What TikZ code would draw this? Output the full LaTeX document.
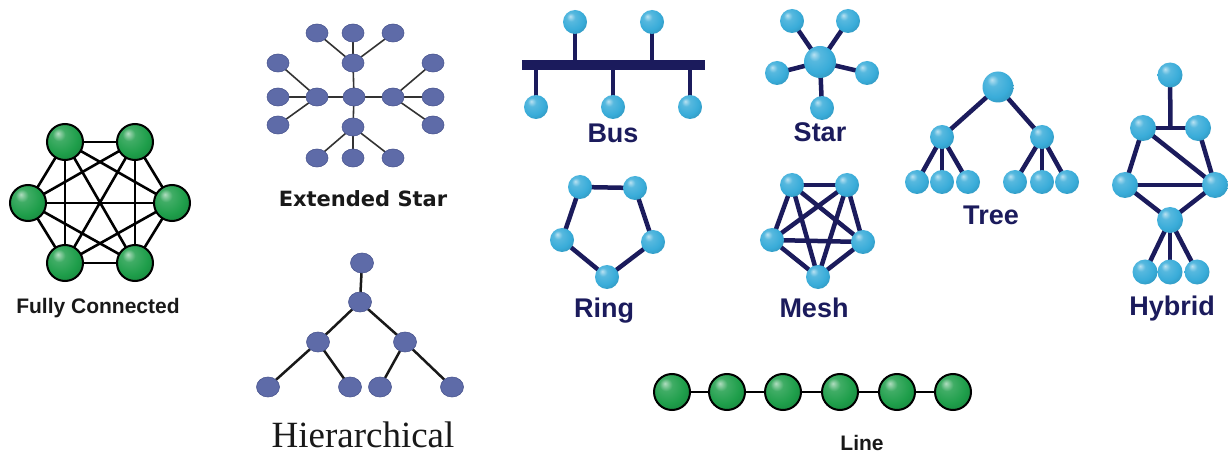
\documentclass[tikz,border=0pt]{standalone}
\usepackage{fontspec}
\setmainfont{Liberation Sans}
\newfontfamily\serifx{Liberation Serif}
\newfontfamily\dejab{DejaVu Sans}
\usetikzlibrary{backgrounds,calc,shapes.geometric}
\definecolor{navy}{HTML}{1B1B5C}
\definecolor{bcol}{HTML}{39ACD9}
\definecolor{gcol}{HTML}{1E9E4A}
\definecolor{slate}{HTML}{5E6BA8}
\definecolor{slateb}{HTML}{4A5690}
\pgfdeclareradialshading{bball}{\pgfqpoint{-10bp}{12bp}}{color(0bp)=(bcol!35!white); color(9bp)=(bcol!85!white); color(24bp)=(bcol); color(42bp)=(bcol!78!black); color(62bp)=(bcol!55!black)}
\pgfdeclareradialshading{gball}{\pgfqpoint{-10bp}{12bp}}{color(0bp)=(gcol!35!white); color(9bp)=(gcol!85!white); color(24bp)=(gcol); color(42bp)=(gcol!75!black); color(62bp)=(gcol!50!black)}
\tikzset{
  gnode/.style={circle, inner sep=0pt, minimum size=36pt, shading=gball, draw=black, line width=2pt},
  bnode/.style={circle, inner sep=0pt, minimum size=24pt, shading=bball},
  bbig/.style={bnode, minimum size=32pt},
  snode/.style={ellipse, inner sep=0pt, minimum width=22pt, minimum height=18pt, fill=slate, draw=slateb, line width=0.6pt},
  hnode/.style={snode, minimum width=23pt, minimum height=20pt},
  fcedge/.style={black, line width=2.6pt},
  nedge/.style={navy, line width=4.5pt},
  sedge/.style={black!80, line width=1.6pt},
  hedge/.style={black!90, line width=2.5pt},
  navylab/.style={anchor=base, text=navy, font=\fontsize{27}{30}\selectfont\bfseries, inner sep=0pt},
  blacklab/.style={anchor=base, text=black!90, font=\fontsize{21}{24}\selectfont\bfseries, inner sep=0pt},
}
\begin{document}
\begin{tikzpicture}[x=1pt,y=-1pt]
\useasboundingbox (0,0) rectangle (1228,454);
\begin{pgfonlayer}{background}
\fill[white] (0,0) rectangle (1228,454);
\end{pgfonlayer}

% ---------- Fully connected ----------
\node[gnode] (f1) at (65,142) {};
\node[gnode] (f2) at (135,142) {};
\node[gnode] (f3) at (28,203) {};
\node[gnode] (f4) at (172,203) {};
\node[gnode] (f5) at (65,263) {};
\node[gnode] (f6) at (135,263) {};
\begin{pgfonlayer}{background}
\foreach \a/\b in {f1/f2,f1/f3,f1/f4,f1/f5,f1/f6,f2/f3,f2/f4,f2/f5,f2/f6,f3/f4,f3/f5,f3/f6,f4/f5,f4/f6,f5/f6}
  \draw[fcedge] (\a.center) -- (\b.center);
\end{pgfonlayer}
\node[blacklab] (fclab) at (98,313) {Fully Connected};

% ---------- Extended star ----------
\node[snode] (ec) at (354,97) {};
\node[snode] (et) at (353,63) {};
\node[snode] (el) at (317,97) {};
\node[snode] (er) at (393,97) {};
\node[snode] (eb) at (353,127) {};
\node[snode] (et1) at (317,33) {};
\node[snode] (et2) at (353,33) {};
\node[snode] (et3) at (393,33) {};
\node[snode] (el1) at (278,63) {};
\node[snode] (el2) at (278,97) {};
\node[snode] (el3) at (278,125) {};
\node[snode] (er1) at (433,63) {};
\node[snode] (er2) at (433,97) {};
\node[snode] (er3) at (433,125) {};
\node[snode] (eb1) at (317,158) {};
\node[snode] (eb2) at (353,158) {};
\node[snode] (eb3) at (393,158) {};
\begin{pgfonlayer}{background}
\foreach \a/\b in {ec/et,ec/el,ec/er,ec/eb,et/et1,et/et2,et/et3,el/el1,el/el2,el/el3,er/er1,er/er2,er/er3,eb/eb1,eb/eb2,eb/eb3}
  \draw[sedge] (\a.center) -- (\b.center);
\end{pgfonlayer}
\node[anchor=base, text=black!90, font=\dejab\fontsize{21}{24}\selectfont\bfseries, inner sep=0pt] (eslab) at (363,207) {Extended Star};

% ---------- Hierarchical ----------
\node[hnode] (hr) at (362,263) {};
\node[hnode] (h1) at (360,302) {};
\node[hnode] (h2) at (318,342) {};
\node[hnode] (h3) at (405,342) {};
\node[hnode] (hl1) at (268,387) {};
\node[hnode] (hl2) at (350,387) {};
\node[hnode] (hl3) at (380,387) {};
\node[hnode] (hl4) at (452,387) {};
\begin{pgfonlayer}{background}
\foreach \a/\b in {hr/h1,h1/h2,h1/h3,h2/hl1,h2/hl2,h3/hl3,h3/hl4}
  \draw[hedge] (\a.center) -- (\b.center);
\end{pgfonlayer}
\node[anchor=base, text=black!90, font=\serifx\fontsize{37}{40}\selectfont, inner sep=0pt] (hilab) at (363,447) {Hierarchical};

% ---------- Bus ----------
\node[fill=navy, inner sep=0pt, minimum width=183pt, minimum height=10pt] (bar) at (613.5,65) {};
\node[bnode] (bt1) at (575,22) {};
\node[bnode] (bt2) at (652,22) {};
\node[bnode] (bb1) at (536,107) {};
\node[bnode] (bb2) at (613,107) {};
\node[bnode] (bb3) at (690,107) {};
\begin{pgfonlayer}{background}
\foreach \n in {bt1,bt2,bb1,bb2,bb3}
  \draw[nedge] (\n.center) -- (\n.center |- bar.center);
\end{pgfonlayer}
\node[navylab] (buslab) at (613,143) {Bus};

% ---------- Star ----------
\node[bbig] (sc) at (820,62) {};
\node[bnode] (s1) at (792,21) {};
\node[bnode] (s2) at (848,21) {};
\node[bnode] (s3) at (777,73) {};
\node[bnode] (s4) at (867,73) {};
\node[bnode] (s5) at (822,108) {};
\begin{pgfonlayer}{background}
\foreach \n in {s1,s2,s3,s4,s5}
  \draw[nedge] (sc.center) -- (\n.center);
\end{pgfonlayer}
\node[navylab] (starlab) at (820,142) {Star};

% ---------- Tree ----------
\node[bnode, minimum size=31pt] (tr) at (998,87) {};
\node[bnode] (tm1) at (942,137) {};
\node[bnode] (tm2) at (1042,137) {};
\node[bnode] (tl1) at (917,182) {};
\node[bnode] (tl2) at (942,182) {};
\node[bnode] (tl3) at (968,182) {};
\node[bnode] (tl4) at (1015,182) {};
\node[bnode] (tl5) at (1042,182) {};
\node[bnode] (tl6) at (1067,182) {};
\begin{pgfonlayer}{background}
\foreach \a/\b in {tr/tm1,tr/tm2,tm1/tl1,tm1/tl2,tm1/tl3,tm2/tl4,tm2/tl5,tm2/tl6}
  \draw[nedge] (\a.center) -- (\b.center);
\end{pgfonlayer}
\node[navylab] (treelab) at (991,225) {Tree};

% ---------- Hybrid ----------
\node[bnode, minimum size=25pt] (y0) at (1170,75) {};
\node[bnode, minimum size=26pt] (y1) at (1143,128) {};
\node[bnode, minimum size=26pt] (y2) at (1198,128) {};
\node[bnode, minimum size=26pt] (y3) at (1125,185) {};
\node[bnode, minimum size=26pt] (y4) at (1215,185) {};
\node[bnode, minimum size=26pt] (y5) at (1170,220) {};
\node[bnode, minimum size=25pt] (y6) at (1145,272) {};
\node[bnode, minimum size=25pt] (y7) at (1170,272) {};
\node[bnode, minimum size=25pt] (y8) at (1197,272) {};
\coordinate (ym) at ($(y1.center)!0.5!(y2.center)$);
\begin{pgfonlayer}{background}
\draw[nedge] (y0.center) -- (ym);
\foreach \a/\b in {y1/y2,y1/y3,y2/y4,y1/y4,y3/y4,y3/y5,y4/y5,y5/y6,y5/y7,y5/y8}
  \draw[nedge] (\a.center) -- (\b.center);
\end{pgfonlayer}
\node[navylab] (hyblab) at (1172,315) {Hybrid};

% ---------- Ring ----------
\node[bnode] (r1) at (580,187) {};
\node[bnode] (r2) at (635,188) {};
\node[bnode] (r3) at (562,240) {};
\node[bnode] (r4) at (653,242) {};
\node[bnode] (r5) at (607,277) {};
\begin{pgfonlayer}{background}
\foreach \a/\b in {r1/r2,r2/r4,r4/r5,r5/r3,r3/r1}
  \draw[nedge] (\a.center) -- (\b.center);
\end{pgfonlayer}
\node[navylab] (ringlab) at (604,317) {Ring};

% ---------- Mesh ----------
\node[bnode] (m1) at (792,185) {};
\node[bnode] (m2) at (847,185) {};
\node[bnode] (m3) at (772,240) {};
\node[bnode] (m4) at (863,242) {};
\node[bnode] (m5) at (818,277) {};
\begin{pgfonlayer}{background}
\foreach \a/\b in {m1/m2,m1/m3,m1/m4,m1/m5,m2/m3,m2/m4,m2/m5,m3/m4,m3/m5,m4/m5}
  \draw[nedge] (\a.center) -- (\b.center);
\end{pgfonlayer}
\node[navylab] (meshlab) at (814,317) {Mesh};

% ---------- Line ----------
\node[gnode] (n1) at (672,392) {};
\node[gnode] (n2) at (727,392) {};
\node[gnode] (n3) at (783,392) {};
\node[gnode] (n4) at (840,392) {};
\node[gnode] (n5) at (897,392) {};
\node[gnode] (n6) at (953,392) {};
\begin{pgfonlayer}{background}
\foreach \a/\b in {n1/n2,n2/n3,n3/n4,n4/n5,n5/n6}
  \draw[fcedge] (\a.center) -- (\b.center);
\end{pgfonlayer}
\node[blacklab] (linelab) at (862,450) {Line};
\end{tikzpicture}
\end{document}
